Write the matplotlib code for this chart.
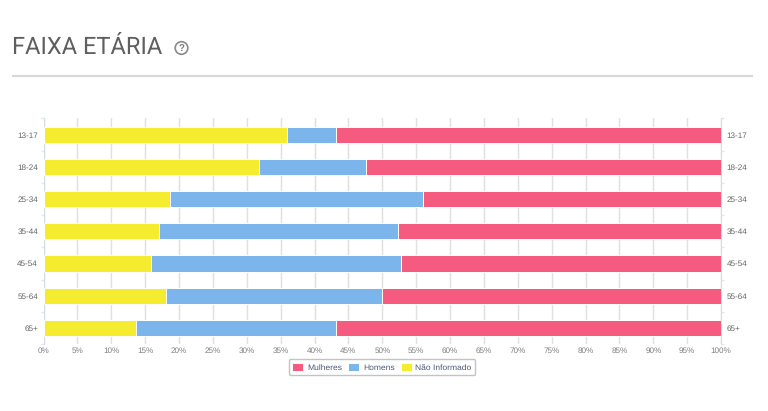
import matplotlib
matplotlib.use("Agg")
from matplotlib import pyplot as plt
from matplotlib.lines import Line2D
from matplotlib.patches import Circle

age_groups = ["13-17", "18-24", "25-34", "35-44", "45-54", "55-64", "65+"]
nao_informado = [35.9, 31.8, 18.7, 17.0, 15.8, 18.0, 13.7]
homens = [7.2, 15.8, 37.3, 35.3, 37.0, 32.0, 29.5]
mulheres = [56.9, 52.4, 44.0, 47.7, 47.2, 50.0, 56.8]
pct_ticks = list(range(0, 101, 5))

W, H = 768, 411
plt.rcParams["font.family"] = ["Liberation Sans", "DejaVu Sans"]
plt.rcParams["text.hinting"] = "no_hinting"

fig = plt.figure(figsize=(W / 100, H / 100), dpi=100)
ax = fig.add_axes([43.6 / W, 1 - 344 / H, 677.4 / W, 225.5 / H])

positions = list(range(len(age_groups)))
boundaries = [p + 0.5 for p in positions[:-1]] + [-0.5, 6.5]
left = [0] * len(age_groups)
series = [
    (nao_informado, "#f5ec2f", "Não Informado"),
    (homens, "#7cb5ec", "Homens"),
    (mulheres, "#f45b7f", "Mulheres"),
]
bars = {}
for values, color, label in series:
    bars[label] = ax.barh(positions, values, left=left, height=0.5, color=color,
                          edgecolor="white", linewidth=0.7, label=label, zorder=3)
    left = [a + b for a, b in zip(left, values)]

ax.set_xlim(0, 100)
ax.set_ylim(6.5, -0.5)
ax.set_xticks(pct_ticks)
ax.set_xticklabels([f"{p}%" for p in pct_ticks], fontsize=5.9, color="#7f7f7f")
ax.set_yticks(positions)
ax.set_yticklabels(age_groups, fontsize=5.9, color="#666666")
ax.tick_params(axis="x", length=0, pad=2.5)
ax.tick_params(axis="y", which="major", length=0, pad=4)
ax.set_yticks(boundaries, minor=True)
ax.tick_params(axis="y", which="minor", length=2, color="#e0e5ee", width=1)
ax.grid(axis="x", color="#e0e0e0", linewidth=1, zorder=0)
ax.set_axisbelow(True)
for side in ["top", "bottom"]:
    ax.spines[side].set_visible(False)
ax.spines["left"].set_color("#d5dce8")
ax.spines["right"].set_color("#d5dce8")

# same labels on the right side
ax_right = ax.twinx()
ax_right.set_ylim(ax.get_ylim())
ax_right.set_yticks(positions)
ax_right.set_yticklabels(age_groups, fontsize=5.9, color="#666666")
ax_right.tick_params(axis="y", length=0, pad=4)
ax_right.set_yticks(boundaries, minor=True)
ax_right.tick_params(axis="y", which="minor", length=2, color="#e0e5ee", width=1)
for spine in ax_right.spines.values():
    spine.set_visible(False)

handles = [bars["Mulheres"], bars["Homens"], bars["Não Informado"]]
leg = ax.legend(handles, ["Mulheres", "Homens", "Não Informado"],
                loc="center", ncol=3, fontsize=6.1, frameon=True, fancybox=True,
                edgecolor="#b5b5b5", labelcolor="#4a5a78", handlelength=1.3,
                handleheight=1.15, handletextpad=0.45, columnspacing=0.7,
                borderpad=0.45, borderaxespad=0)
leg.set_bbox_to_anchor((382 / W, 1 - 367 / H), transform=fig.transFigure)
leg.get_frame().set_linewidth(1)

fig.text(12 / W, 1 - 47.5 / H, "FAIXA ETÁRIA", fontsize=17, color="#5f5f5f",
         family=["Roboto", "DejaVu Sans"], va="center", ha="left")
fig.add_artist(Circle((181.5, H - 48), 6.3, transform=None, fill=False,
                      edgecolor="#8a8a8a", linewidth=1.2))
fig.text(181.5 / W, 1 - 48 / H, "?", fontsize=7, color="#7a7a7a", weight="bold",
         va="center", ha="center")
fig.add_artist(Line2D([13 / W, 752 / W], [1 - 76 / H, 1 - 76 / H], color="#d8d8d8", linewidth=1.5))

fig.savefig("out.png", dpi=100)
